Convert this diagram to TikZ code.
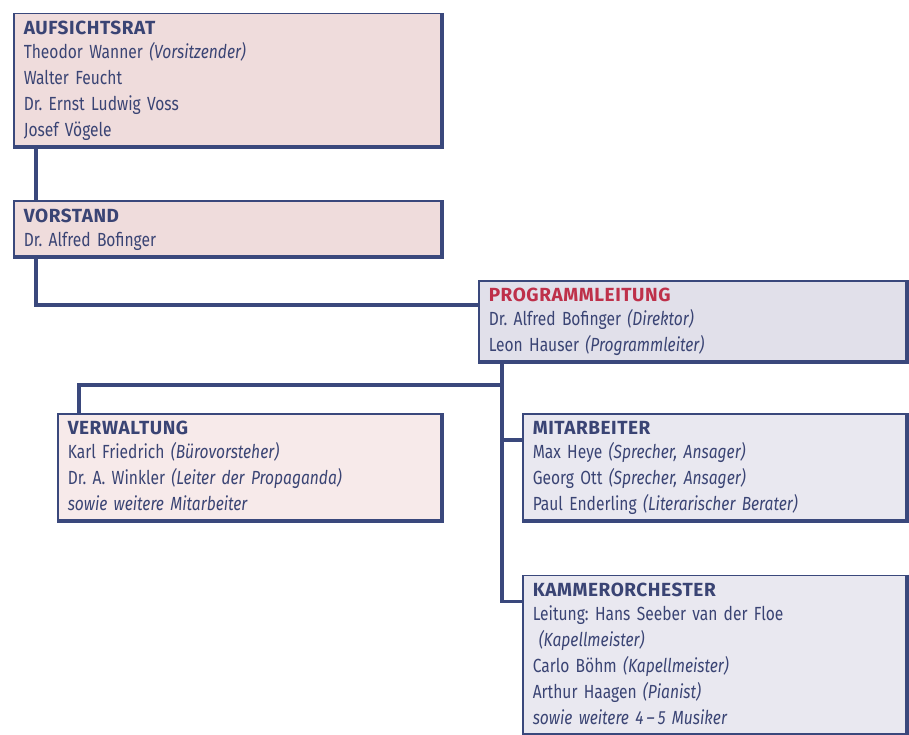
\documentclass[tikz,border=0pt]{standalone}
\usepackage{fontspec}
\setmainfont{Fira Sans}[FakeStretch=0.82]
\newfontfamily\headfont{Fira Sans}[LetterSpace=3]
\usetikzlibrary{positioning}
\definecolor{linecol}{RGB}{58,72,124}
\definecolor{textcol}{RGB}{58,68,116}
\definecolor{titlered}{RGB}{190,48,74}
\definecolor{roseA}{RGB}{239,220,220}
\definecolor{roseB}{RGB}{247,234,234}
\definecolor{lilacA}{RGB}{225,224,234}
\definecolor{lilacB}{RGB}{233,232,240}
\newcommand{\head}[1]{{\headfont\bfseries #1}}

\begin{document}
\frenchspacing
\begin{tikzpicture}[
        x=1pt, y=1pt,
        box/.style = {draw=linecol, line width=1.5pt, fill=#1, text=textcol,
                anchor=north west, align=left, inner xsep=10pt, inner ysep=3pt,
                font=\fontsize{19}{26}\selectfont,
                execute at begin node=\strut, execute at end node=\strut},
        wide/.style = {text width=409pt},
        narrow/.style = {text width=365pt},
        conn/.style = {draw=linecol, line width=3.5pt},
        rim/.style = {draw=linecol, line width=4pt}
    ]
    \useasboundingbox (0,0) rectangle (909,-735);
    \node[box=roseA, wide] (Aufsichtsrat) at (13,-13) {\head{AUFSICHTSRAT}\\[-2pt]
        Theodor Wanner \textit{(Vorsitzender)}\\
        Walter Feucht\\
        Dr. Ernst Ludwig Voss\\
        Josef Vögele};
    \node[box=roseA, wide, below=52pt of Aufsichtsrat.south west, anchor=north west] (Vorstand) {\head{VORSTAND}\\[-2pt]
        Dr. Alfred Bofinger};
    \node[box=lilacA, wide] (Programmleitung) at (478,-280) {{\color{titlered}\head{PROGRAMMLEITUNG}}\\[-2pt]
        Dr. Alfred Bofinger \textit{(Direktor)}\\
        Leon Hauser \textit{(Programmleiter)}};
    \node[box=roseB, narrow] (Verwaltung) at (57,-413) {\head{VERWALTUNG}\\[-2pt]
        Karl Friedrich \textit{(Bürovorsteher)}\\
        Dr. A. Winkler \textit{(Leiter der Propaganda)}\\
        \textit{sowie weitere Mitarbeiter}};
    \node[box=lilacB, narrow] (Mitarbeiter) at (522,-413) {\head{MITARBEITER}\\[-2pt]
        Max Heye \textit{(Sprecher, Ansager)}\\
        Georg Ott \textit{(Sprecher, Ansager)}\\
        Paul Enderling \textit{(Literarischer Berater)}};
    \node[box=lilacB, narrow, below=52pt of Mitarbeiter.south west, anchor=north west] (Kammerorchester) {\head{KAMMERORCHESTER}\\[-2pt]
        Leitung: Hans Seeber van der Floe\\
        \hspace{6pt}\textit{(Kapellmeister)}\\
        Carlo Böhm \textit{(Kapellmeister)}\\
        Arthur Haagen \textit{(Pianist)}\\
        \textit{sowie weitere 4\,--\,5 Musiker}};

    \foreach \n in {Aufsichtsrat, Vorstand, Programmleitung, Verwaltung, Mitarbeiter, Kammerorchester}
        \draw[rim] ([xshift=-1.25pt]\n.north east) -- ([shift={(-1.25pt,1.25pt)}]\n.south east) -- ([yshift=1.25pt]\n.south west);

    \coordinate (Fork) at ([xshift=24pt, yshift=-105pt]Programmleitung.north west);
    \draw[conn] ([xshift=23pt]Aufsichtsrat.south west) -- ([xshift=23pt]Vorstand.north west);
    \draw[conn] ([xshift=23pt]Vorstand.south west) |- ([yshift=-25pt]Programmleitung.north west);
    \draw[conn] ([xshift=24pt]Programmleitung.south west) |- ([yshift=-27pt]Kammerorchester.north west);
    \draw[conn] (Fork) -| ([xshift=22pt]Verwaltung.north west);
    \draw[conn] ([yshift=-27pt]Mitarbeiter.north west) -| (Fork);
\end{tikzpicture}
\end{document}
